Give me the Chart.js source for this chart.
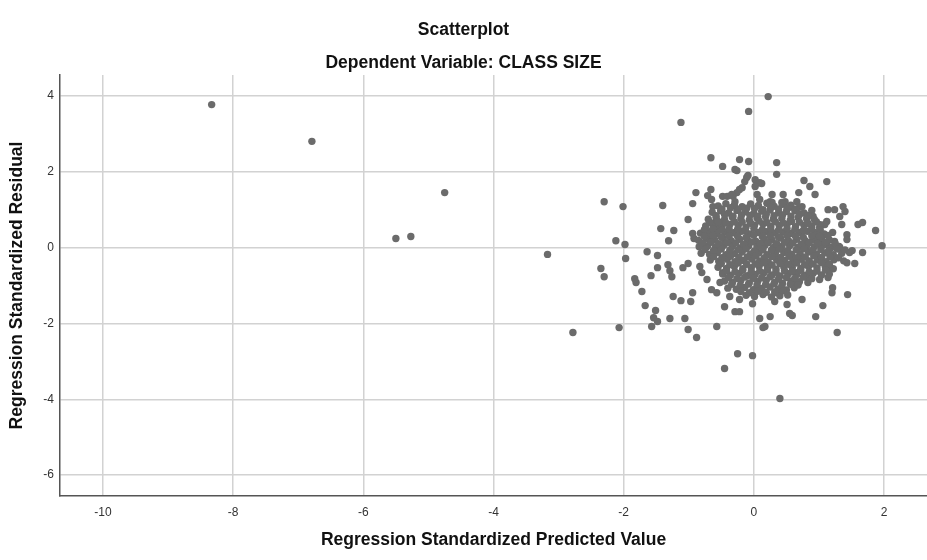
<!DOCTYPE html>
<html>
<head>
<meta charset="utf-8">
<title>Scatterplot</title>
<script src="https://cdn.jsdelivr.net/npm/chart.js@4.4.1/dist/chart.umd.min.js"></script>
<style>
    html, body { margin: 0; padding: 0; background: #fff; }
    #wrap { width: 927px; height: 560px; }
</style>
</head>
<body>
<div id="wrap"><canvas id="residualChart" width="927" height="560"></canvas></div>
<script>
// [standardized predicted value, standardized residual]
const farLeft = [
    [-8.33, 3.77], [-6.79, 2.80], [-5.50, 0.24], [-5.27, 0.29], [-4.75, 1.45],
    [-3.17, -0.18], [-2.78, -2.24]
];

const upperTail = [
    [0.22, 3.98], [-0.08, 3.59], [-1.12, 3.30], [-0.66, 2.37], [-0.48, 2.14],
    [-0.22, 2.32], [-0.08, 2.27], [-0.26, 2.03], [0.35, 2.24], [0.35, 1.93],
    [0.77, 1.77], [0.86, 1.61], [0.94, 1.40], [1.12, 1.74], [0.69, 1.45],
    [-0.89, 1.45], [-0.66, 1.53], [-0.71, 1.37], [-0.48, 1.35], [-0.29, 2.06],
    [-0.11, 1.85], [-0.14, 1.74], [-0.22, 1.53], [-0.26, 1.45], [0.02, 1.79],
    [0.09, 1.71], [0.02, 1.61], [-0.18, 1.58], [-0.09, 1.90], [0.05, 1.40],
    [0.09, 1.27], [-0.41, 1.35], [-0.32, 1.35], [-0.34, 1.40], [0.28, 1.40],
    [0.25, 1.21], [0.45, 1.40], [0.48, 1.21], [0.43, 1.19], [0.28, 1.19],
    [0.66, 1.21], [0.55, 1.06], [0.74, 1.08], [-0.29, 1.21], [0.12, 1.69]
];

const leftFringe = [
    [-2.30, 1.21], [-2.01, 1.08], [-1.40, 1.11], [-0.94, 1.16], [-1.01, 0.74],
    [-1.43, 0.50], [-1.23, 0.45], [-1.31, 0.18], [-0.94, 0.37], [-0.92, 0.24],
    [-0.68, 0.32], [-2.12, 0.18], [-1.98, 0.08], [-0.65, 1.27], [-0.63, 1.08],
    [-0.60, 0.66], [-0.57, 0.55], [-0.49, 0.66], [-0.72, 0.03], [-1.64, -0.11],
    [-1.48, -0.21], [-2.35, -0.55], [-2.30, -0.77], [-1.97, -0.29], [-1.48, -0.53],
    [-1.58, -0.74], [-1.32, -0.45], [-1.29, -0.61], [-1.26, -0.77], [-1.09, -0.53],
    [-1.01, -0.42], [-0.83, -0.50], [-0.80, -0.66], [-0.72, -0.84], [-0.65, -1.11],
    [-0.57, -1.19], [-0.52, -0.92], [-0.48, -0.66], [-1.72, -1.16], [-1.81, -0.92],
    [-1.83, -0.82], [-1.24, -1.29], [-1.12, -1.40], [-0.94, -1.19], [-0.97, -1.42]
];

const lowerTail = [
    [-2.07, -2.11], [-1.67, -1.53], [-1.51, -1.66], [-1.54, -1.85], [-1.48, -1.95],
    [-1.57, -2.08], [-1.29, -1.87], [-1.06, -1.87], [-1.01, -2.16], [-0.57, -2.08],
    [-0.88, -2.37], [-0.45, -1.56], [-0.29, -1.69], [-0.22, -1.69], [-0.02, -1.48],
    [0.09, -1.87], [0.25, -1.82], [0.14, -2.11], [0.17, -2.08], [0.32, -1.42],
    [0.51, -1.50], [0.55, -1.74], [0.59, -1.79], [0.74, -1.37], [-0.22, -1.37],
    [-0.37, -1.29], [1.06, -1.53], [0.95, -1.82], [1.28, -2.24], [-0.25, -2.80],
    [-0.02, -2.85], [-0.45, -3.19], [0.40, -3.98]
];

const rightFringe = [
    [1.14, 1.00], [1.24, 1.00], [1.37, 1.08], [1.40, 0.95], [1.12, 0.69],
    [1.32, 0.82], [1.35, 0.61], [1.60, 0.61], [1.67, 0.66], [1.87, 0.45],
    [1.43, 0.34], [1.21, 0.40], [1.24, 0.16], [1.43, 0.21], [0.89, 0.98],
    [0.91, 0.82], [1.09, 0.61], [1.01, 0.53], [0.98, 0.29], [1.12, 0.08],
    [1.32, 0.00], [1.51, -0.08], [1.67, -0.13], [1.97, 0.05], [1.55, -0.42],
    [1.43, -0.40], [1.17, -0.53], [0.81, -0.77], [1.01, -0.84], [1.14, -0.79],
    [1.21, -1.06], [1.20, -1.19], [1.44, -1.24], [0.66, -0.66], [0.63, -0.92],
    [0.35, -1.19]
];

const denseCore = [
    [-0.55, 1.10], [-0.43, 1.16], [-0.30, 1.12], [-0.18, 1.08], [-0.05, 1.15], [0.07, 1.11],
    [0.20, 1.17], [0.31, 1.09], [0.44, 1.14], [0.57, 1.12], [0.70, 1.06],
    [-0.64, 0.93], [-0.51, 0.97], [-0.39, 0.91], [-0.26, 0.98], [-0.13, 0.94], [0.00, 0.90],
    [0.12, 0.96], [0.25, 0.99], [0.38, 0.92], [0.50, 0.95], [0.63, 0.97], [0.77, 0.91],
    [-0.70, 0.75], [-0.58, 0.79], [-0.45, 0.74], [-0.33, 0.80], [-0.20, 0.76], [-0.07, 0.73],
    [0.05, 0.78], [0.18, 0.81], [0.30, 0.75], [0.43, 0.77], [0.56, 0.72], [0.68, 0.79],
    [0.81, 0.76], [0.93, 0.74],
    [-0.74, 0.57], [-0.62, 0.60], [-0.49, 0.55], [-0.37, 0.61], [-0.24, 0.58], [-0.12, 0.54],
    [0.01, 0.59], [0.14, 0.62], [0.26, 0.56], [0.39, 0.58], [0.51, 0.61], [0.64, 0.55],
    [0.77, 0.59], [0.89, 0.57], [1.02, 0.60],
    [-0.82, 0.38], [-0.69, 0.42], [-0.57, 0.37], [-0.44, 0.41], [-0.31, 0.39], [-0.19, 0.43],
    [-0.06, 0.36], [0.07, 0.40], [0.19, 0.42], [0.32, 0.38], [0.45, 0.41], [0.57, 0.37],
    [0.70, 0.40], [0.82, 0.43], [0.95, 0.39], [1.08, 0.36],
    [-0.85, 0.19], [-0.73, 0.23], [-0.60, 0.20], [-0.47, 0.24], [-0.35, 0.18], [-0.22, 0.22],
    [-0.10, 0.21], [0.03, 0.17], [0.16, 0.23], [0.28, 0.20], [0.41, 0.25], [0.53, 0.19],
    [0.66, 0.22], [0.79, 0.18], [0.91, 0.21], [1.04, 0.24], [1.16, 0.20],
    [-0.84, 0.02], [-0.71, 0.05], [-0.59, 0.01], [-0.46, 0.06], [-0.33, 0.03], [-0.21, -0.01],
    [-0.08, 0.04], [0.05, 0.02], [0.17, 0.06], [0.30, 0.00], [0.43, 0.03], [0.55, 0.05],
    [0.68, 0.01], [0.81, 0.04], [0.93, 0.02], [1.06, 0.06], [1.19, 0.00], [1.31, 0.03],
    [-0.81, -0.15], [-0.68, -0.18], [-0.56, -0.13], [-0.43, -0.19], [-0.30, -0.16], [-0.18, -0.12],
    [-0.05, -0.17], [0.08, -0.14], [0.20, -0.19], [0.33, -0.15], [0.46, -0.13], [0.58, -0.18],
    [0.71, -0.16], [0.84, -0.12], [0.96, -0.17], [1.09, -0.14], [1.22, -0.19], [1.35, -0.15],
    [1.47, -0.13],
    [-0.67, -0.33], [-0.54, -0.36], [-0.41, -0.31], [-0.29, -0.37], [-0.16, -0.34], [-0.03, -0.30],
    [0.09, -0.35], [0.22, -0.38], [0.35, -0.32], [0.47, -0.34], [0.60, -0.36], [0.73, -0.31],
    [0.85, -0.35], [0.98, -0.33], [1.11, -0.37], [1.23, -0.32], [1.38, -0.35],
    [-0.55, -0.52], [-0.42, -0.55], [-0.30, -0.50], [-0.17, -0.56], [-0.04, -0.53], [0.08, -0.49],
    [0.21, -0.54], [0.34, -0.57], [0.46, -0.51], [0.59, -0.53], [0.72, -0.55], [0.84, -0.50],
    [0.97, -0.54], [1.10, -0.52], [1.22, -0.56],
    [-0.48, -0.70], [-0.36, -0.73], [-0.23, -0.68], [-0.10, -0.74], [0.02, -0.71], [0.15, -0.67],
    [0.28, -0.72], [0.40, -0.75], [0.53, -0.69], [0.66, -0.71], [0.78, -0.73], [0.91, -0.68],
    [1.04, -0.72], [1.16, -0.70],
    [-0.45, -0.88], [-0.33, -0.92], [-0.20, -0.87], [-0.07, -0.93], [0.06, -0.89], [0.19, -0.86],
    [0.32, -0.91], [0.44, -0.94], [0.57, -0.88], [0.70, -0.90], [0.83, -0.92],
    [-0.40, -1.07], [-0.27, -1.10], [-0.14, -1.05], [-0.01, -1.11], [0.12, -1.08], [0.25, -1.04],
    [0.37, -1.09], [0.50, -1.12], [0.62, -1.06],
    [-0.12, -1.26], [0.01, -1.29], [0.14, -1.24], [0.27, -1.30], [0.40, -1.27], [0.52, -1.25]
];

// second layer of the core, sitting between the rows above
const coreFill = [
    [-0.49, 1.02], [-0.36, 1.05], [-0.24, 1.01], [-0.11, 1.04], [0.01, 1.03], [0.14, 1.00],
    [0.26, 1.06], [0.38, 1.02], [0.51, 1.04], [0.64, 1.01],
    [-0.58, 0.84], [-0.45, 0.87], [-0.32, 0.83], [-0.19, 0.86], [-0.06, 0.85], [0.06, 0.82],
    [0.19, 0.88], [0.31, 0.84], [0.44, 0.86], [0.57, 0.83], [0.70, 0.87], [0.83, 0.85],
    [-0.68, 0.66], [-0.55, 0.69], [-0.43, 0.65], [-0.30, 0.68], [-0.18, 0.67], [-0.05, 0.64],
    [0.08, 0.70], [0.20, 0.66], [0.33, 0.68], [0.45, 0.65], [0.58, 0.69], [0.70, 0.67],
    [0.83, 0.64], [0.96, 0.68],
    [-0.76, 0.47], [-0.63, 0.50], [-0.50, 0.46], [-0.38, 0.49], [-0.25, 0.48], [-0.13, 0.45],
    [0.00, 0.51], [0.13, 0.47], [0.26, 0.49], [0.38, 0.46], [0.51, 0.50], [0.63, 0.48],
    [0.76, 0.45], [0.89, 0.49], [1.02, 0.47],
    [-0.76, 0.29], [-0.63, 0.32], [-0.50, 0.28], [-0.38, 0.31], [-0.25, 0.30], [-0.12, 0.27],
    [0.00, 0.33], [0.13, 0.29], [0.25, 0.31], [0.38, 0.28], [0.51, 0.32], [0.64, 0.30],
    [0.76, 0.27], [0.89, 0.31], [1.01, 0.29], [1.14, 0.32],
    [-0.79, 0.11], [-0.66, 0.14], [-0.54, 0.10], [-0.41, 0.13], [-0.28, 0.12], [-0.16, 0.09],
    [-0.03, 0.15], [0.10, 0.11], [0.22, 0.13], [0.35, 0.10], [0.47, 0.14], [0.60, 0.12],
    [0.73, 0.09], [0.85, 0.13], [0.98, 0.11], [1.10, 0.14], [1.25, 0.10],
    [-0.75, -0.05], [-0.62, -0.08], [-0.50, -0.04], [-0.37, -0.07], [-0.24, -0.06], [-0.12, -0.03],
    [0.01, -0.09], [0.14, -0.05], [0.27, -0.07], [0.39, -0.04], [0.52, -0.08], [0.65, -0.06],
    [0.77, -0.03], [0.90, -0.07], [1.03, -0.05], [1.15, -0.08], [1.28, -0.04], [1.40, -0.06],
    [-0.62, -0.24], [-0.49, -0.27], [-0.36, -0.23], [-0.23, -0.26], [-0.10, -0.25], [0.03, -0.22],
    [0.16, -0.28], [0.28, -0.24], [0.41, -0.26], [0.54, -0.23], [0.66, -0.27], [0.79, -0.25],
    [0.92, -0.22], [1.04, -0.26], [1.17, -0.24], [1.30, -0.27],
    [-0.50, -0.42], [-0.37, -0.45], [-0.24, -0.41], [-0.11, -0.44], [0.02, -0.43], [0.15, -0.40],
    [0.28, -0.46], [0.40, -0.42], [0.53, -0.44], [0.66, -0.41], [0.78, -0.45], [0.91, -0.43],
    [1.04, -0.40], [1.16, -0.44],
    [-0.42, -0.61], [-0.29, -0.64], [-0.17, -0.60], [-0.04, -0.63], [0.09, -0.62], [0.21, -0.59],
    [0.34, -0.65], [0.47, -0.61], [0.59, -0.63], [0.72, -0.60], [0.85, -0.64], [0.97, -0.62],
    [1.10, -0.59],
    [-0.39, -0.79], [-0.26, -0.82], [-0.14, -0.78], [-0.01, -0.81], [0.12, -0.80], [0.25, -0.77],
    [0.38, -0.83], [0.50, -0.79], [0.63, -0.81], [0.76, -0.78], [0.89, -0.82],
    [-0.34, -0.97], [-0.21, -1.00], [-0.08, -0.96], [0.05, -0.99], [0.18, -0.98], [0.31, -0.95],
    [0.43, -1.01], [0.56, -0.97], [0.68, -0.99],
    [-0.20, -1.16], [-0.07, -1.19], [0.06, -1.15], [0.19, -1.18], [0.32, -1.17], [0.45, -1.14]
];

const xTicks = [-10, -8, -6, -4, -2, 0, 2];
const yTicks = [-6, -4, -2, 0, 2, 4];
const xMin = -10.66, xMax = 2.66;
const yMin = -6.55, yMax = 4.55;

const allPoints = [...farLeft, ...upperTail, ...leftFringe, ...lowerTail, ...rightFringe, ...denseCore, ...coreFill]
    .map(([x, y]) => ({ x, y }));

Chart.defaults.font.family = '"Liberation Sans", Arial, sans-serif';
Chart.defaults.color = "#222";

const gridStyle = { color: "#d2d2d2", lineWidth: 1.5, drawTicks: false };
const borderStyle = { color: "#555", width: 1.5 };
const axisTitleFont = { size: 17.5, weight: "bold" };

new Chart(document.getElementById("residualChart"), {
    type: "scatter",
    data: {
        datasets: [{
            data: allPoints,
            backgroundColor: "#6b6b6b",
            borderWidth: 0,
            pointRadius: 3.7,
            pointHoverRadius: 3.7
        }]
    },
    options: {
        responsive: false,
        animation: false,
        layout: { padding: 0, autoPadding: false },
        plugins: {
            legend: { display: false },
            tooltip: { enabled: false },
            title: {
                display: true,
                text: "Scatterplot",
                color: "#111",
                font: { size: 17.5, weight: "bold" },
                padding: { top: 19.5, bottom: 12 }
            },
            subtitle: {
                display: true,
                text: "Dependent Variable: CLASS SIZE",
                color: "#111",
                font: { size: 17.5, weight: "bold" },
                padding: { top: 0, bottom: 1.5 }
            }
        },
        scales: {
            x: {
                type: "linear",
                min: xMin,
                max: xMax,
                afterFit: scale => {
                    scale.height = 64;
                    scale.paddingLeft = 0;
                    scale.paddingRight = 0;
                },
                afterBuildTicks: scale => { scale.ticks = xTicks.map(v => ({ value: v })); },
                grid: gridStyle,
                border: borderStyle,
                ticks: { padding: 9, font: { size: 12 }, color: "#333" },
                title: {
                    display: true,
                    text: "Regression Standardized Predicted Value",
                    color: "#111",
                    font: axisTitleFont,
                    padding: { top: 0, bottom: 9.4 }
                }
            },
            y: {
                type: "linear",
                min: yMin,
                max: yMax,
                afterFit: scale => { scale.width = 60; },
                afterBuildTicks: scale => { scale.ticks = yTicks.map(v => ({ value: v })); },
                grid: gridStyle,
                border: borderStyle,
                ticks: { padding: 6, font: { size: 12 }, color: "#333" },
                title: {
                    display: true,
                    text: "Regression Standardized Residual",
                    color: "#111",
                    font: axisTitleFont,
                    padding: { top: 6.4, bottom: 0 }
                }
            }
        }
    }
});
</script>
</body>
</html>
